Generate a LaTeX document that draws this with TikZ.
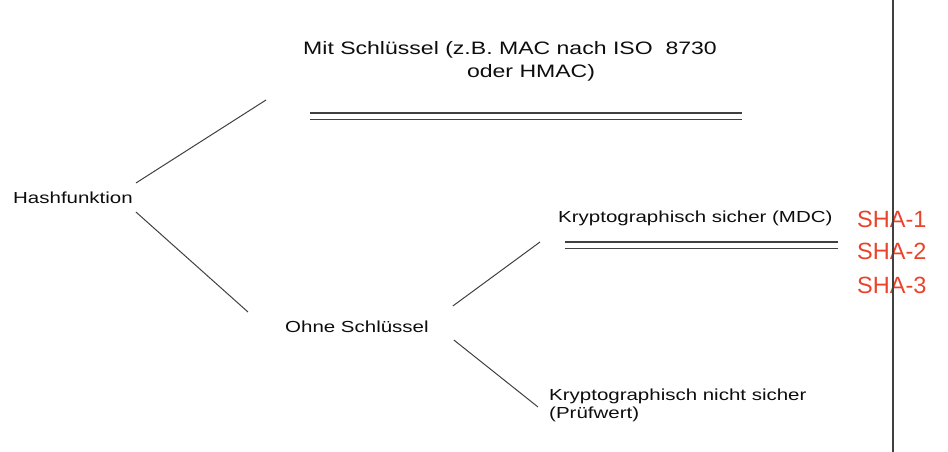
\documentclass[tikz,border=0pt]{standalone}
\usepackage{fontspec}
\setmainfont{Liberation Sans}
\usepackage{graphicx}
\usetikzlibrary{calc}

\definecolor{shared}{RGB}{234,67,42}
\newcommand{\wide}[1]{\scalebox{1.28}[1]{#1}}

\begin{document}
\begin{tikzpicture}
  [
    x=1pt,
    y=-1pt,
    term/.style={
      inner sep=0pt,
      anchor=base west,
      text=black!95,
      font=\fontsize{16}{18}\selectfont
    },
    bigterm/.style={
      term,
      font=\fontsize{18}{23}\selectfont
    },
    shacode/.style={
      term,
      text=shared,
      font=\fontsize{23.5}{28}\selectfont
    },
    twig/.style={
      draw=black!75,
      line width=1pt
    },
    doubleline/.style={
      draw=black!75,
      line width=1.4pt,
      double=white,
      double distance=5pt
    }
  ]

  \useasboundingbox (0,0) rectangle (948,452);

  \node [term] (hash) at (13,203) {\wide{Hashfunktion}};
  \node [bigterm] (mit) at (303,55) {\wide{\begin{tabular}[t]{@{}l@{}}Mit Schlüssel (z.B. MAC nach ISO\ \ 8730\\\hspace*{128pt}oder HMAC)\end{tabular}}};
  \node [term] (ohne) at (285,332) {\wide{Ohne Schlüssel}};
  \node [term] (mdc) at (558,222) {\wide{Kryptographisch sicher (MDC)}};
  \node [term] (pruef) at (549,400) {\wide{\begin{tabular}[t]{@{}l@{}}Kryptographisch nicht sicher\\(Prüfwert)\end{tabular}}};

  \foreach \n/\y in {1/227,2/259,3/293} {
      \node [shacode] (sha\n) at (857,\y) {SHA-\n};
  }

  % branches
  \draw [twig] ($(hash.base east)+(3,-20)$) -- ($(mit.base west)+(-37,45)$);
  \draw [twig] ($(hash.base east)+(3,9)$) -- ($(ohne.base west)+(-37,-20)$);
  \draw [twig] ($(ohne.base east)+(24,-26)$) -- ($(mdc.base west)+(-18,20)$);
  \draw [twig] ($(ohne.base east)+(25,8)$) -- ($(pruef.base west)+(-11,7)$);

  \draw [doubleline] ($(mit.base west)+(7,61)$) -- ($(mit.base west)+(439,61)$);
  \draw [doubleline] ($(mdc.base west)+(7,23)$) -- ($(mdc.base west)+(280,23)$);

  \draw [line width=1.3pt,black!75] (893,0) -- (893,452);

\end{tikzpicture}
\end{document}
